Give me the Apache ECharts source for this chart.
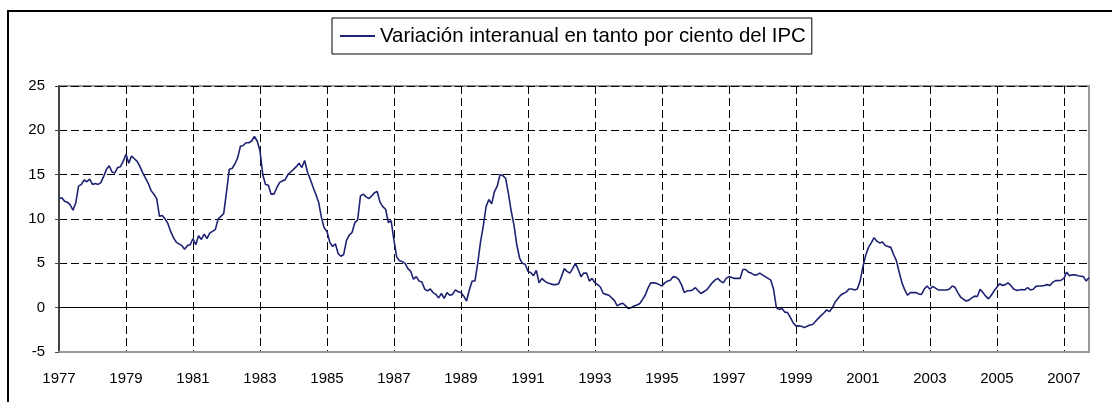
<!DOCTYPE html>
<html>
<head>
<meta charset="utf-8">
<script src="https://cdn.jsdelivr.net/npm/echarts@6/dist/echarts.min.js"></script>
<style>
  html, body { margin: 0; padding: 0; background: #fff; }
  #chart { width: 1112px; height: 402px; }
</style>
</head>
<body>
<div id="chart"></div>
<script>
// monthly year-on-year CPI change (%), Jan 1977 .. Oct 2007
var y1977 = [12.3, 12.4, 12.0, 11.9, 11.6, 11.0, 11.8, 13.7, 13.9, 14.4, 14.2, 14.5];
var y1978 = [13.9, 14.0, 13.9, 14.1, 14.8, 15.6, 16.0, 15.3, 15.2, 15.8, 15.9, 16.5];
var y1979 = [17.3, 16.3, 17.1, 16.8, 16.5, 15.9, 15.2, 14.6, 14.0, 13.2, 12.8, 12.3];
var y1980 = [10.3, 10.4, 10.0, 9.5, 8.6, 7.9, 7.4, 7.2, 7.0, 6.6, 7.0, 7.1];
var y1981 = [7.8, 7.1, 8.1, 7.7, 8.3, 7.8, 8.4, 8.6, 8.8, 10.0, 10.3, 10.6];
var y1982 = [13.0, 15.6, 15.7, 16.2, 16.9, 18.2, 18.3, 18.6, 18.6, 18.8, 19.3, 18.8];
var y1983 = [17.7, 15.0, 13.9, 13.8, 12.8, 12.8, 13.5, 14.1, 14.3, 14.4, 15.0, 15.3];
var y1984 = [15.6, 15.9, 16.3, 15.8, 16.6, 15.3, 14.5, 13.6, 12.8, 11.9, 10.2, 9.0];
var y1985 = [8.6, 7.4, 6.9, 7.2, 6.1, 5.8, 6.0, 7.6, 8.2, 8.5, 9.6, 9.9];
var y1986 = [12.6, 12.8, 12.5, 12.3, 12.6, 12.95, 13.1, 11.9, 11.4, 11.1, 9.6, 9.8];
var y1987 = [7.6, 5.7, 5.3, 5.2, 5.0, 4.4, 4.1, 3.2, 3.5, 3.0, 2.9, 2.1];
var y1988 = [1.9, 2.1, 1.7, 1.5, 1.1, 1.6, 1.05, 1.7, 1.4, 1.5, 2.0, 1.8];
var y1989 = [1.7, 1.3, 0.75, 2.0, 3.0, 3.0, 5.0, 7.4, 9.2, 11.4, 12.2, 11.7];
var y1990 = [13.1, 13.7, 15.0, 14.9, 14.6, 12.9, 10.9, 9.3, 7.1, 5.6, 5.0, 4.9];
var y1991 = [4.1, 3.95, 3.6, 4.2, 2.8, 3.3, 3.0, 2.8, 2.7, 2.6, 2.6, 2.7];
var y1992 = [3.5, 4.4, 4.1, 3.9, 4.4, 5.0, 4.3, 3.5, 3.9, 3.9, 3.0, 3.3];
var y1993 = [2.8, 2.6, 2.3, 1.6, 1.5, 1.4, 1.1, 0.8, 0.2, 0.4, 0.5, 0.2];
var y1994 = [-0.1, 0.0, 0.2, 0.3, 0.45, 0.9, 1.4, 2.2, 2.8, 2.8, 2.75, 2.6];
var y1995 = [2.45, 2.8, 3.0, 3.1, 3.5, 3.45, 3.2, 2.6, 1.7, 1.9, 1.9, 2.0];
var y1996 = [2.25, 1.9, 1.6, 1.8, 2.0, 2.4, 2.8, 3.1, 3.3, 3.0, 2.8, 3.3];
var y1997 = [3.5, 3.4, 3.3, 3.3, 3.3, 4.3, 4.3, 4.0, 3.9, 3.7, 3.7, 3.9];
var y1998 = [3.7, 3.5, 3.3, 3.1, 2.07, 0.0, -0.2, -0.1, -0.5, -0.55, -1.1, -1.7];
var y1999 = [-2.05, -2.05, -2.1, -2.25, -2.1, -1.95, -1.9, -1.55, -1.2, -0.9, -0.6, -0.25];
var y2000 = [-0.45, -0.05, 0.6, 1.0, 1.4, 1.6, 1.75, 2.1, 2.1, 2.0, 2.1, 3.0];
var y2001 = [4.6, 5.9, 6.8, 7.3, 7.9, 7.5, 7.3, 7.4, 7.0, 6.9, 6.8, 6.0];
var y2002 = [5.3, 4.0, 2.8, 2.0, 1.4, 1.7, 1.7, 1.7, 1.55, 1.5, 2.1, 2.45];
var y2003 = [2.07, 2.4, 2.2, 2.0, 2.0, 2.0, 2.0, 2.1, 2.45, 2.3, 1.7, 1.2];
var y2004 = [0.95, 0.75, 0.85, 1.1, 1.3, 1.25, 2.07, 1.7, 1.3, 1.0, 1.4, 1.9];
var y2005 = [2.3, 2.7, 2.5, 2.6, 2.8, 2.5, 2.1, 1.95, 2.0, 2.05, 2.0, 2.25];
var y2006 = [2.0, 2.07, 2.4, 2.45, 2.45, 2.5, 2.6, 2.5, 2.85, 3.05, 3.05, 3.1];
var y2007 = [3.3, 4.0, 3.6, 3.7, 3.7, 3.6, 3.55, 3.5, 3.0, 3.4];

var years = [y1977, y1978, y1979, y1980, y1981, y1982, y1983, y1984, y1985, y1986,
  y1987, y1988, y1989, y1990, y1991, y1992, y1993, y1994, y1995, y1996,
  y1997, y1998, y1999, y2000, y2001, y2002, y2003, y2004, y2005, y2006, y2007];

var tickLabels = ['1977', '1979', '1981', '1983', '1985', '1987', '1989', '1991',
  '1993', '1995', '1997', '1999', '2001', '2003', '2005', '2007'];

var seriesName = 'Variación interanual en tanto por ciento del IPC';

var values = [];
var months = [];
years.forEach(function (arr, i) {
  arr.forEach(function (v, j) {
    values.push(v);
    months.push((1977 + i) + '-' + (j + 1));
  });
});

var font = '"Liberation Sans", Arial, sans-serif';
var lineColor = '#1e2272';
var chart = echarts.init(document.getElementById('chart'));

chart.setOption({
  animation: false,
  textStyle: { fontFamily: font },
  graphic: [{
    type: 'rect',
    shape: { x: 8, y: 11, width: 1200, height: 500 },
    style: { fill: 'none', stroke: '#000', lineWidth: 2 },
    silent: true
  }],
  legend: {
    left: 332,
    top: 18,
    padding: [8, 6, 8, 8],
    borderColor: '#000',
    borderWidth: 1,
    itemWidth: 35,
    itemHeight: 2,
    itemGap: 5,
    textStyle: { fontSize: 20.4, color: '#000', fontFamily: font },
    data: [{ name: seriesName, icon: 'rect', itemStyle: { color: lineColor } }]
  },
  grid: {
    left: 59, top: 86, width: 1030, height: 266,
    show: true, borderColor: '#999', borderWidth: 2
  },
  xAxis: {
    type: 'category',
    data: months,
    boundaryGap: false,
    axisLine: { onZero: false, lineStyle: { color: '#999', width: 2 } },
    axisTick: { show: false },
    axisLabel: {
      interval: 23,
      margin: 19,
      fontSize: 15,
      color: '#000',
      formatter: function (val, idx) { return tickLabels[Math.round(idx / 24)]; }
    },
    splitLine: {
      show: true,
      interval: 23,
      lineStyle: { color: '#000', type: [8, 4], width: 1 }
    }
  },
  yAxis: {
    type: 'value',
    min: -5, max: 25, interval: 5,
    axisLine: { show: true, lineStyle: { color: '#444', width: 2 } },
    axisTick: { show: true, length: 4, lineStyle: { color: '#444' } },
    axisLabel: { fontSize: 15, color: '#000', margin: 14 },
    splitLine: { lineStyle: { color: '#000', type: [8, 4], width: 1 } }
  },
  series: [{
    name: seriesName,
    type: 'line',
    data: values,
    symbol: 'none',
    lineStyle: { color: lineColor, width: 1.6 },
    itemStyle: { color: lineColor },
    markLine: {
      silent: true,
      symbol: 'none',
      label: { show: false },
      lineStyle: { color: '#000', type: 'solid', width: 1 },
      data: [{ yAxis: 0 }]
    }
  }]
});
</script>
</body>
</html>
